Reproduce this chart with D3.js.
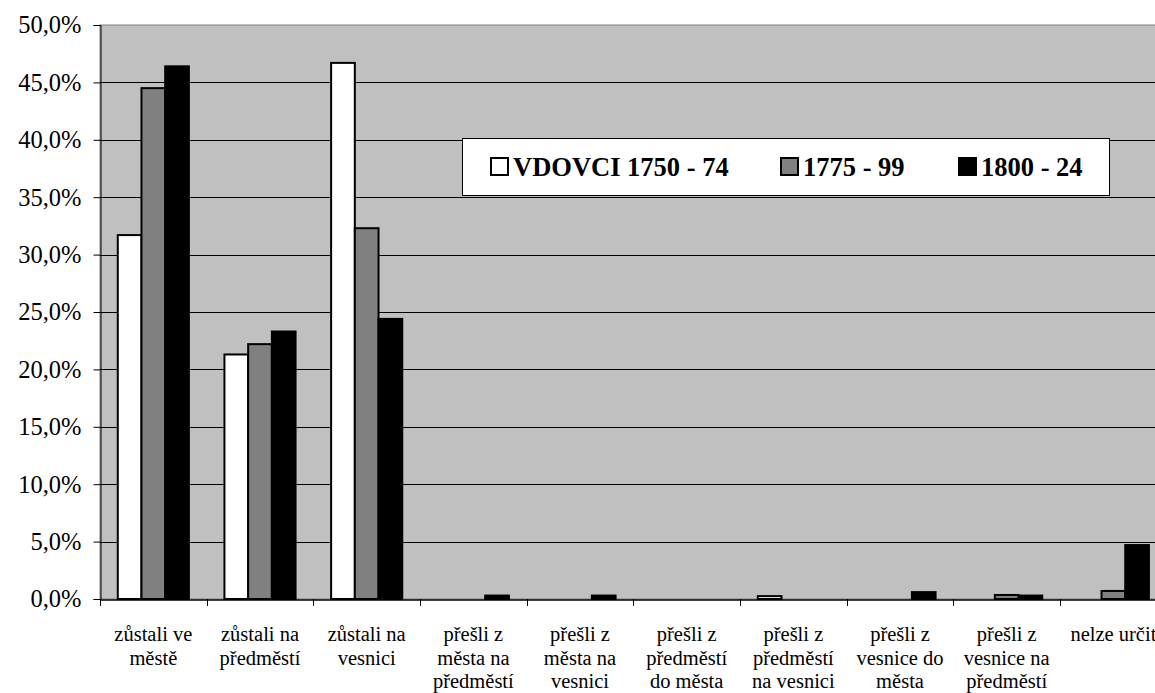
<!DOCTYPE html>
<html>
<head>
<meta charset="utf-8">
<script src="https://cdn.jsdelivr.net/npm/d3@7"></script>
<style>
  html, body { margin: 0; padding: 0; background: #ffffff; }
  svg { display: block; }
</style>
</head>
<body>
<svg id="chart" width="1155" height="693"></svg>
<script>
const categories = [
  "zůstali ve\nměstě",
  "zůstali na\npředměstí",
  "zůstali na\nvesnici",
  "přešli z\nměsta na\npředměstí",
  "přešli z\nměsta na\nvesnici",
  "přešli z\npředměstí\ndo města",
  "přešli z\npředměstí\nna vesnici",
  "přešli z\nvesnice do\nměsta",
  "přešli z\nvesnice na\npředměstí",
  "nelze určit"
];
const seriesNames = ["VDOVCI 1750 - 74", "1775 - 99", "1800 - 24"];
const series1750 = [31.7, 21.3, 46.7, 0.0, 0.0, 0.0, 0.25, 0.0, 0.0, 0.0];
const series1775 = [44.5, 22.2, 32.3, 0.0, 0.0, 0.0, 0.0, 0.0, 0.35, 0.7];
const series1800 = [46.4, 23.3, 24.4, 0.3, 0.3, 0.0, 0.0, 0.6, 0.3, 4.7];
const seriesFills = ["#ffffff", "#808080", "#000000"];
const yTicks = [0, 5, 10, 15, 20, 25, 30, 35, 40, 45, 50];

(function () {
const FONT = '"Liberation Serif", Tinos, "Times New Roman", Times, "DejaVu Serif", serif';
const svg = d3.select("#chart");
const mLeft = 100, mTop = 25, mBottom = 599, bandW = 106.67;
const mRight = mLeft + bandW * categories.length;

const x = d3.scaleBand().domain(d3.range(categories.length)).range([mLeft, mRight]).paddingInner(0).paddingOuter(0);
const xs = d3.scaleBand().domain([0, 1, 2]).range([0, x.bandwidth()]).paddingInner(0).paddingOuter(0.75);
const y = d3.scaleLinear().domain([0, 50]).range([mBottom, mTop]);

svg.append("rect").attr("x", mLeft).attr("y", mTop).attr("width", mRight - mLeft).attr("height", mBottom - mTop)
  .attr("fill", "#c0c0c0").attr("stroke", "#808080").attr("stroke-width", 1);

svg.append("g").selectAll("line").data(yTicks.filter(d => d > 0 && d < 50)).join("line")
  .attr("x1", mLeft).attr("x2", mRight)
  .attr("y1", d => Math.round(y(d)) + 0.5).attr("y2", d => Math.round(y(d)) + 0.5)
  .attr("stroke", "#000").attr("stroke-width", 1);

const allSeries = [series1750, series1775, series1800];
allSeries.forEach((vals, si) => {
  svg.append("g").selectAll("rect").data(vals.map((v, i) => ({v, i})).filter(d => d.v > 0)).join("rect")
    .attr("x", d => x(d.i) + xs(si))
    .attr("y", d => y(d.v))
    .attr("width", xs.bandwidth())
    .attr("height", d => mBottom - y(d.v))
    .attr("fill", seriesFills[si])
    .attr("stroke", "#000").attr("stroke-width", 2);
});

const yAxis = d3.axisLeft(y).tickValues(yTicks).tickSize(7).tickPadding(12)
  .tickFormat(d => d3.format(".1f")(d).replace(".", ",") + "%");
const gy = svg.append("g").attr("transform", `translate(${mLeft + 0.5},0)`).call(yAxis)
  .attr("font-family", FONT).attr("font-size", 24.5);
gy.selectAll("text").attr("fill", "#000");
gy.selectAll("line, path").attr("stroke", "#000");

const xAxis = d3.axisBottom(x).tickSize(0).tickFormat("");
const gx = svg.append("g").attr("transform", `translate(0,${mBottom + 0.5})`).call(xAxis);
gx.select("path").attr("stroke", "#000").attr("stroke-width", 1.5);
svg.append("g").selectAll("line").data(d3.range(categories.length + 1)).join("line")
  .attr("x1", i => Math.round(mLeft + i * bandW) + 0.5).attr("x2", i => Math.round(mLeft + i * bandW) + 0.5)
  .attr("y1", mBottom).attr("y2", mBottom + 7).attr("stroke", "#000");

const lbl = svg.append("g").attr("font-family", FONT).selectAll("text").data(categories).join("text")
  .attr("text-anchor", "middle").attr("font-size", 20.5).attr("fill", "#000")
  .attr("transform", (d, i) => `translate(${x(i) + x.bandwidth() / 2},641)`);
lbl.selectAll("tspan").data(d => d.split("\n")).join("tspan")
  .attr("x", 0).attr("dy", (d, j) => j === 0 ? 0 : 23.5).text(d => d);

const lg = svg.append("g").attr("font-family", FONT);
lg.append("rect").attr("x", 462.5).attr("y", 138.5).attr("width", 647).attr("height", 57)
  .attr("fill", "#fff").attr("stroke", "#000").attr("stroke-width", 1);
const legendX = [491, 781, 959];
seriesNames.forEach((name, i) => {
  lg.append("rect").attr("x", legendX[i]).attr("y", 158).attr("width", 17).attr("height", 17)
    .attr("fill", seriesFills[i]).attr("stroke", "#000").attr("stroke-width", 2);
  lg.append("text").attr("x", legendX[i] + 22).attr("y", 176).attr("font-size", 26.5).attr("font-weight", "bold")
    .attr("fill", "#000").text(name);
});
})();
</script>
</body>
</html>
